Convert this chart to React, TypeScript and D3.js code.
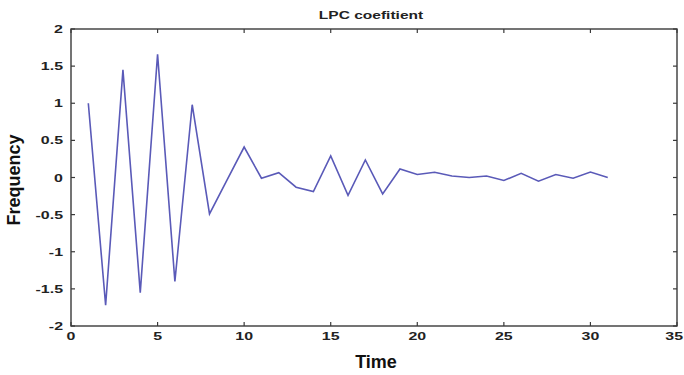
import React from "react";
import * as d3 from "d3";

const times = [1,2,3,4,5,6,7,8,9,10,11,12,13,14,15,16,17,18,19,20,21,22,23,24,25,26,27,28,29,30,31];
const values = [1.0,-1.72,1.45,-1.55,1.66,-1.40,0.98,-0.49,-0.04,0.41,-0.01,0.065,-0.13,-0.19,0.29,-0.24,0.236,-0.22,0.115,0.04,0.07,0.02,0.0,0.02,-0.04,0.056,-0.05,0.04,-0.01,0.074,0.0];
const xTicks = [0,5,10,15,20,25,30,35];
const yTicks = [-2,-1.5,-1,-0.5,0,0.5,1,1.5,2];
const title = "LPC coefitient";
const xLabel = "Time";
const yLabel = "Frequency";

export default function App() {
  const W = 684, H = 375;
  const left = 71, right = 677, top = 29, bottom = 326;
  const x = d3.scaleLinear().domain([0, 35]).range([left, right]);
  const y = d3.scaleLinear().domain([-2, 2]).range([bottom, top]);
  const line = d3.line<number>().x((_, i) => x(times[i])).y((d) => y(d));
  const axisColor = "#3a3a3a";
  const font = "Liberation Sans, Arial, sans-serif";
  const sx = 1.45;
  return (
    <svg width={W} height={H} style={{ position: "absolute", left: 0, top: 0, background: "#fff" }}>
      <rect x={0} y={0} width={W} height={H} fill="#fff" />
      <g stroke={axisColor} strokeWidth={1.2}>
        {xTicks.map((t) => (
          <g key={"xt" + t}>
            <line x1={x(t)} x2={x(t)} y1={bottom} y2={bottom - 4} />
            <line x1={x(t)} x2={x(t)} y1={top} y2={top + 4} />
          </g>
        ))}
        {yTicks.map((t) => (
          <g key={"yt" + t}>
            <line x1={left} x2={left + 4} y1={y(t)} y2={y(t)} />
            <line x1={right} x2={right - 4} y1={y(t)} y2={y(t)} />
          </g>
        ))}
        <rect x={left} y={top} width={right - left} height={bottom - top} fill="none" strokeWidth={1.4} />
      </g>
      <path d={line(values) || ""} fill="none" stroke="#5a5ab8" strokeWidth={1.6} strokeLinejoin="miter" />
      <g fontFamily={font} fontWeight="bold" fontSize={11} fill="#222">
        {xTicks.map((t, i) => {
          const last = i === xTicks.length - 1;
          const px = last ? Math.min(x(t) + 11, W - 1) : x(t);
          return (
            <text key={"xl" + t} transform={`translate(${px},${340}) scale(${sx},1)`} textAnchor={last ? "end" : "middle"}>{t}</text>
          );
        })}
        {yTicks.map((t) => (
          <text key={"yl" + t} transform={`translate(${63},${y(t) + 4}) scale(${sx},1)`} textAnchor="end">{t}</text>
        ))}
      </g>
      <text transform={`translate(${371},${19}) scale(1.35,1)`} textAnchor="middle" fontFamily={font} fontWeight="bold" fontSize={11.5} fill="#222">{title}</text>
      <text x={376} y={368} textAnchor="middle" fontFamily={font} fontWeight="bold" fontSize={18} fill="#111">{xLabel}</text>
      <text transform={`translate(${20},${180}) rotate(-90)`} textAnchor="middle" fontFamily={font} fontWeight="bold" fontSize={18} fill="#111">{yLabel}</text>
    </svg>
  );
}
